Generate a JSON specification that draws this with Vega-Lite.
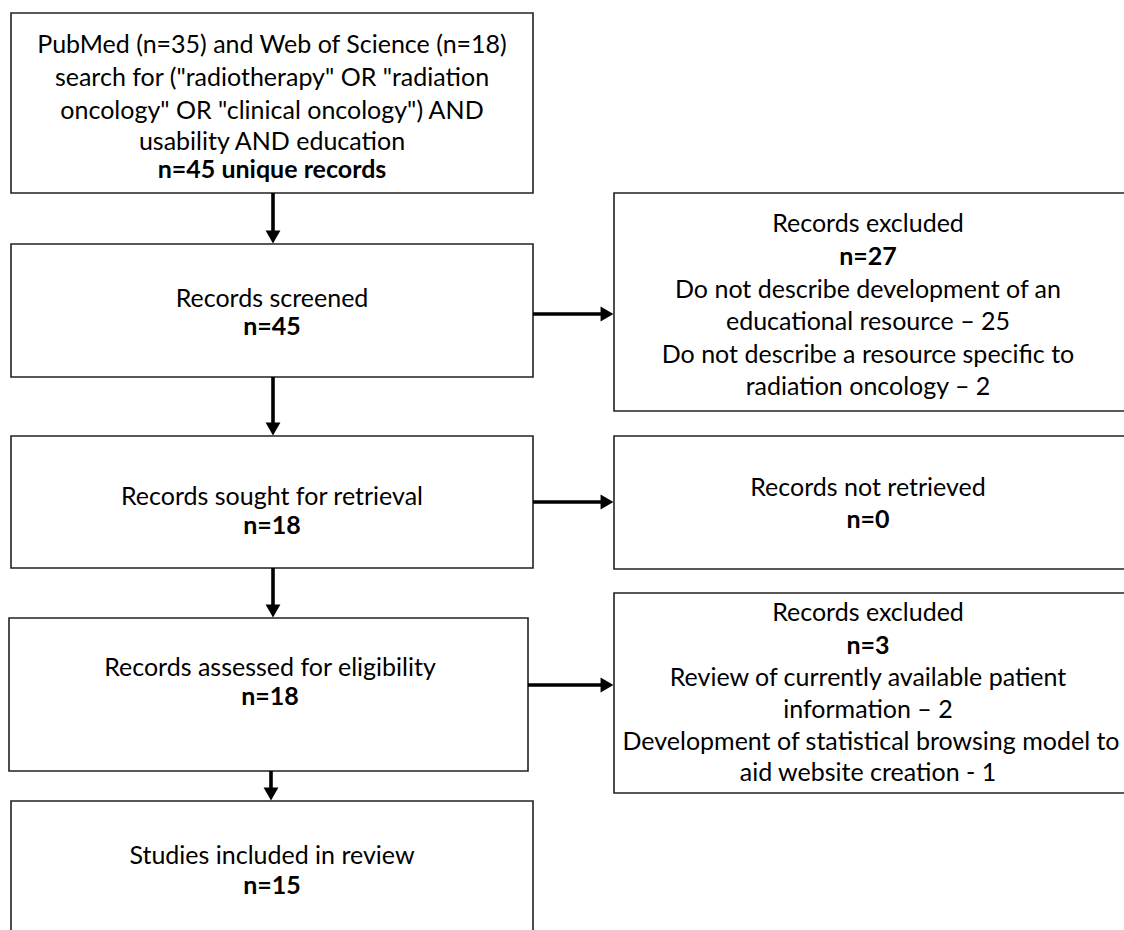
{
  "$schema": "https://vega.github.io/schema/vega-lite/v6.json",
  "width": 1124,
  "height": 930,
  "autosize": "none",
  "padding": 0,
  "background": "white",
  "config": {"view": {"stroke": null}},
  "datasets": {
    "boxes": [
      {"x": 11, "x2": 533, "y": 13, "y2": 193},
      {"x": 11, "x2": 533, "y": 244, "y2": 377},
      {"x": 11, "x2": 533, "y": 436, "y2": 568},
      {"x": 9, "x2": 528, "y": 618, "y2": 771},
      {"x": 11, "x2": 533, "y": 801, "y2": 940},
      {"x": 614, "x2": 1135, "y": 193, "y2": 411},
      {"x": 614, "x2": 1135, "y": 436, "y2": 569},
      {"x": 614, "x2": 1135, "y": 593, "y2": 793}
    ],
    "arrows": [
      {"x": 273, "y": 193, "x2": 273, "y2": 232},
      {"x": 273, "y": 377, "x2": 273, "y2": 424},
      {"x": 273, "y": 568, "x2": 273, "y2": 606},
      {"x": 271, "y": 771, "x2": 271, "y2": 789},
      {"x": 533, "y": 314, "x2": 602, "y2": 314},
      {"x": 533, "y": 502, "x2": 602, "y2": 502},
      {"x": 528, "y": 685, "x2": 602, "y2": 685}
    ],
    "heads": [
      {"x": 273, "y": 237, "dir": "down"},
      {"x": 273, "y": 429, "dir": "down"},
      {"x": 273, "y": 611, "dir": "down"},
      {"x": 271, "y": 794, "dir": "down"},
      {"x": 607, "y": 314, "dir": "right"},
      {"x": 607, "y": 502, "dir": "right"},
      {"x": 607, "y": 685, "dir": "right"}
    ],
    "labels": [
      {"x": 272, "y": 45, "text": "PubMed (n=35) and Web of Science (n=18)", "bold": false},
      {"x": 272, "y": 78, "text": "search for (\"radiotherapy\" OR \"radiation", "bold": false},
      {"x": 272, "y": 111, "text": "oncology\" OR \"clinical oncology\") AND", "bold": false},
      {"x": 272, "y": 142, "text": "usability AND education", "bold": false},
      {"x": 272, "y": 170, "text": "n=45 unique records", "bold": true},
      {"x": 272, "y": 299, "text": "Records screened", "bold": false},
      {"x": 272, "y": 327, "text": "n=45", "bold": true},
      {"x": 868, "y": 224, "text": "Records excluded", "bold": false},
      {"x": 868, "y": 257, "text": "n=27", "bold": true},
      {"x": 868, "y": 290, "text": "Do not describe development of an", "bold": false},
      {"x": 868, "y": 322, "text": "educational resource – 25", "bold": false},
      {"x": 868, "y": 355, "text": "Do not describe a resource specific to", "bold": false},
      {"x": 868, "y": 387, "text": "radiation oncology – 2", "bold": false},
      {"x": 272, "y": 497, "text": "Records sought for retrieval", "bold": false},
      {"x": 272, "y": 526, "text": "n=18", "bold": true},
      {"x": 868, "y": 488, "text": "Records not retrieved", "bold": false},
      {"x": 868, "y": 520, "text": "n=0", "bold": true},
      {"x": 270, "y": 668, "text": "Records assessed for eligibility", "bold": false},
      {"x": 270, "y": 697, "text": "n=18", "bold": true},
      {"x": 868, "y": 613, "text": "Records excluded", "bold": false},
      {"x": 868, "y": 646, "text": "n=3", "bold": true},
      {"x": 868, "y": 678, "text": "Review of currently available patient", "bold": false},
      {"x": 868, "y": 710, "text": "information – 2", "bold": false},
      {"x": 871, "y": 742, "text": "Development of statistical browsing model to", "bold": false},
      {"x": 868, "y": 773, "text": "aid website creation - 1", "bold": false},
      {"x": 272, "y": 856, "text": "Studies included in review", "bold": false},
      {"x": 272, "y": 886, "text": "n=15", "bold": true}
    ]
  },
  "layer": [
    {
      "data": {"name": "boxes"},
      "mark": {"type": "rect", "fill": "white", "stroke": "#222222", "strokeWidth": 1.6, "clip": true},
      "encoding": {
        "x": {"field": "x", "type": "quantitative", "scale": {"domain": [0, 1124], "nice": false, "zero": false}, "axis": null},
        "x2": {"field": "x2"},
        "y": {"field": "y", "type": "quantitative", "scale": {"domain": [0, 930], "nice": false, "zero": false, "reverse": true}, "axis": null},
        "y2": {"field": "y2"}
      }
    },
    {
      "data": {"name": "arrows"},
      "mark": {"type": "rule", "stroke": "black", "strokeWidth": 3.6},
      "encoding": {
        "x": {"field": "x", "type": "quantitative"},
        "x2": {"field": "x2"},
        "y": {"field": "y", "type": "quantitative"},
        "y2": {"field": "y2"}
      }
    },
    {
      "data": {"name": "heads"},
      "mark": {"type": "point", "filled": true, "fill": "black", "strokeWidth": 0, "opacity": 1, "size": 220},
      "encoding": {
        "x": {"field": "x", "type": "quantitative"},
        "y": {"field": "y", "type": "quantitative"},
        "shape": {"field": "dir", "type": "nominal", "scale": {"domain": ["down", "right"], "range": ["triangle-down", "triangle-right"]}, "legend": null}
      }
    },
    {
      "data": {"name": "labels"},
      "transform": [{"filter": "!datum.bold"}],
      "mark": {"type": "text", "font": "Lato", "fontSize": 25, "align": "center", "baseline": "middle", "color": "black"},
      "encoding": {
        "x": {"field": "x", "type": "quantitative"},
        "y": {"field": "y", "type": "quantitative"},
        "text": {"field": "text"}
      }
    },
    {
      "data": {"name": "labels"},
      "transform": [{"filter": "datum.bold"}],
      "mark": {"type": "text", "font": "Lato", "fontSize": 25, "fontWeight": "bold", "align": "center", "baseline": "middle", "color": "black"},
      "encoding": {
        "x": {"field": "x", "type": "quantitative"},
        "y": {"field": "y", "type": "quantitative"},
        "text": {"field": "text"}
      }
    }
  ]
}
